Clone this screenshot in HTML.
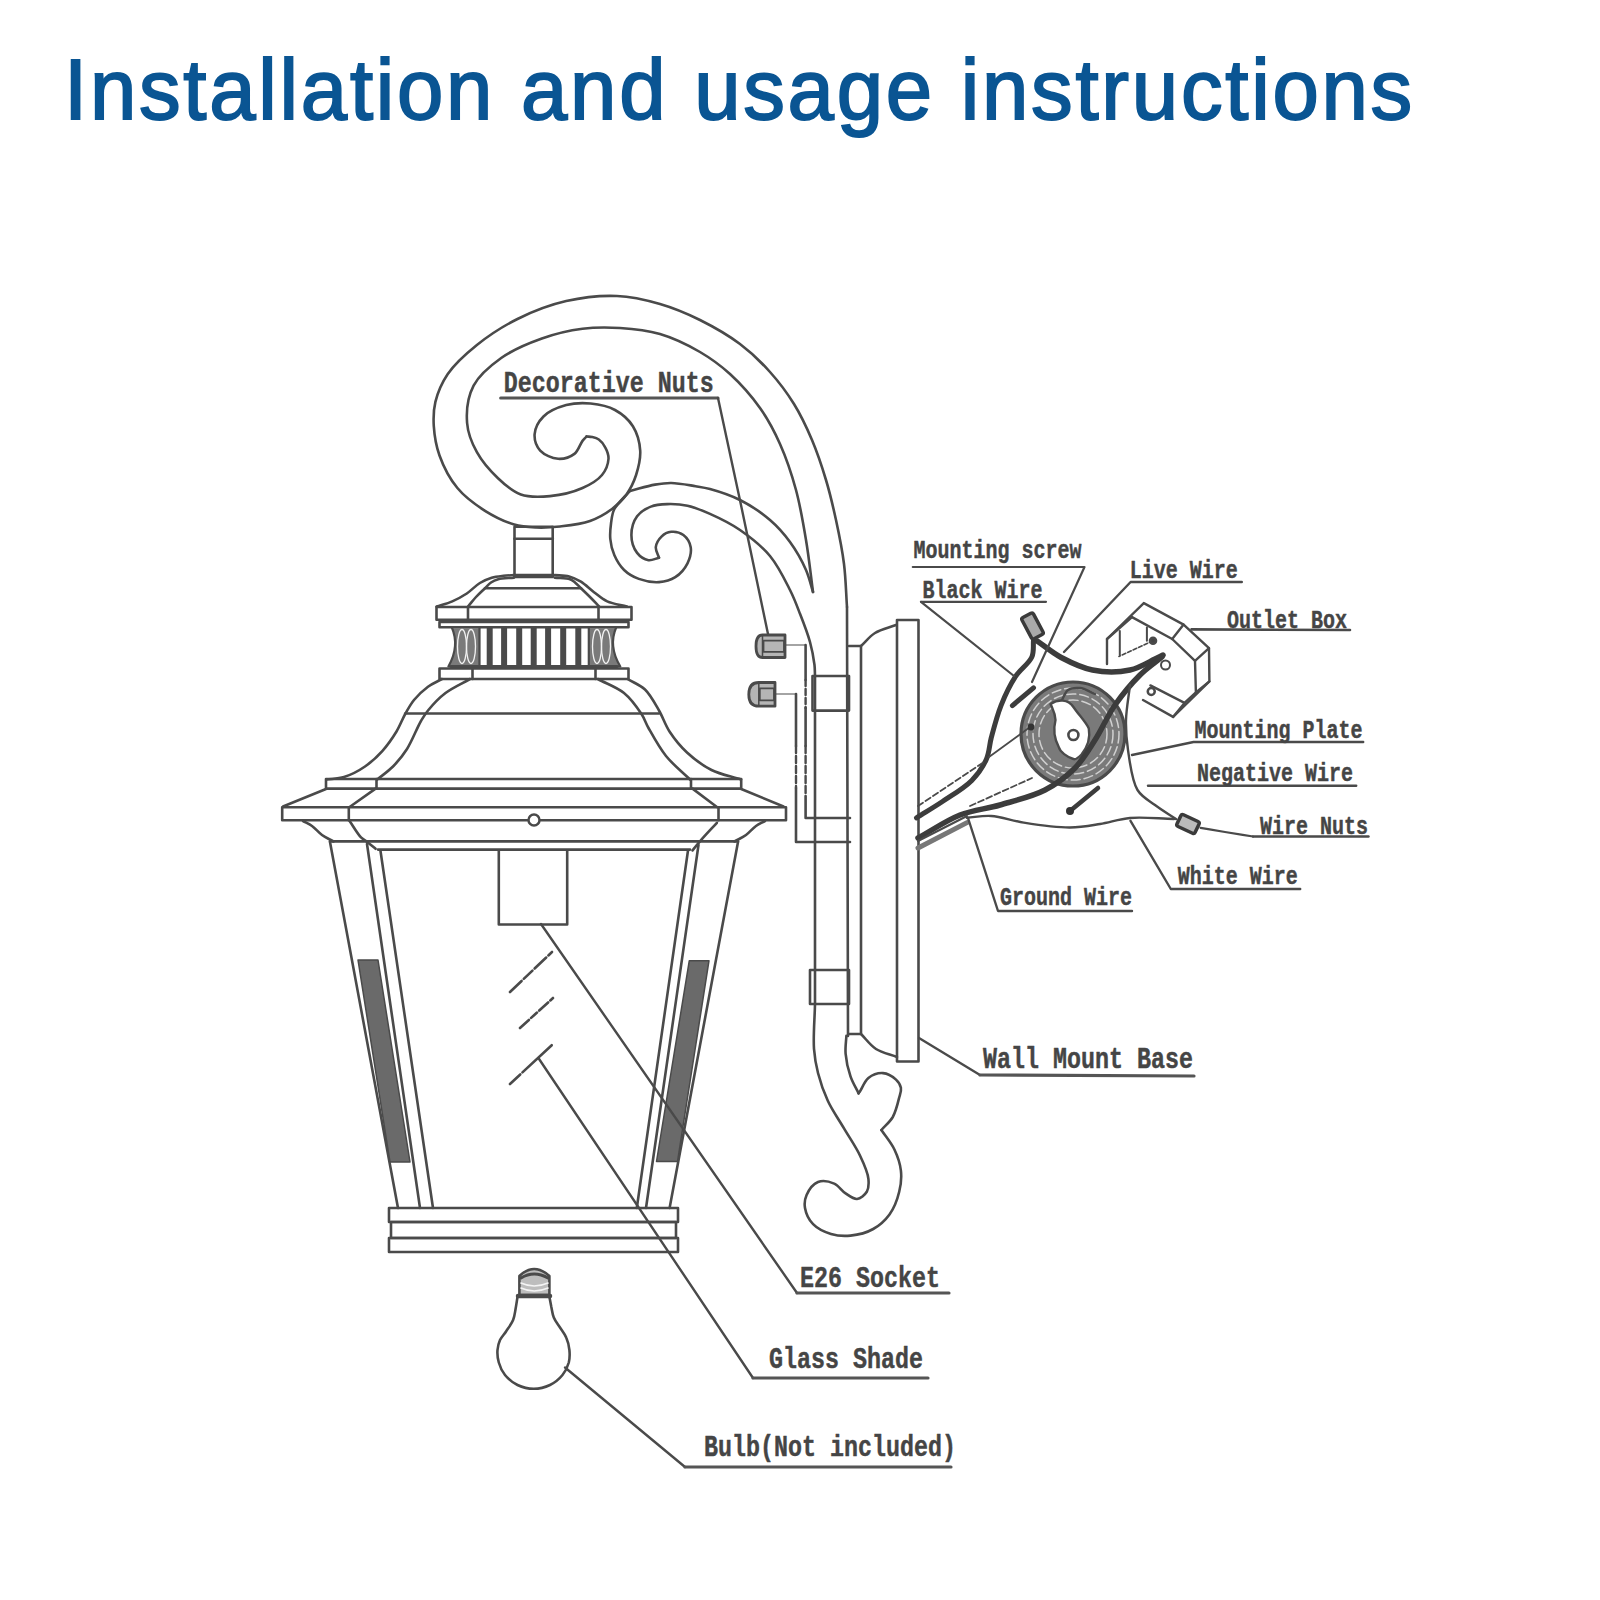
<!DOCTYPE html>
<html><head><meta charset="utf-8">
<style>
html,body{margin:0;padding:0;background:#fff;}
body{width:1600px;height:1600px;overflow:hidden;position:relative;}
h1{position:absolute;left:64.25px;top:47px;margin:0;font-family:"Liberation Sans",sans-serif;font-weight:normal;font-size:85px;color:#0a5593;-webkit-text-stroke:1.9px #0a5593;white-space:nowrap;letter-spacing:2.8px;line-height:1;transform-origin:0 0;transform:scaleX(0.98);}
svg{position:absolute;left:0;top:0;}
.L{font-family:"Liberation Mono",monospace;font-weight:bold;fill:#454545;stroke:#454545;stroke-width:0.35px;}
</style></head><body>
<h1>Installation and usage instructions</h1>
<svg width="1600" height="1600" viewBox="0 0 1600 1600" fill="none" stroke="#4a4a4a" stroke-width="2.6" stroke-linecap="round" stroke-linejoin="round">
<path d="M847.0,607.0 C846.0,592.7 845.8,578.4 844.0,564.0 C842.2,549.4 839.1,534.3 836.0,520.0 C833.0,506.3 830.0,493.2 826.0,480.0 C822.0,466.6 817.4,452.8 812.0,440.0 C806.7,427.5 801.0,415.3 794.0,404.0 C787.0,392.7 778.9,381.9 770.0,372.0 C761.0,361.9 751.2,352.4 740.0,344.0 C728.0,335.0 713.6,326.8 700.0,320.0 C686.9,313.5 673.8,308.0 660.0,304.0 C646.1,300.0 632.0,296.6 617.0,296.0 C600.8,295.3 582.8,297.3 566.2,301.1 C549.6,304.9 532.6,311.5 517.5,319.0 C502.9,326.2 488.9,335.4 476.9,345.0 C465.8,353.9 454.7,363.9 447.6,374.2 C441.6,383.1 437.6,392.8 435.4,401.9 C433.4,410.1 433.3,417.8 433.8,426.2 C434.4,435.6 436.0,445.8 439.5,455.5 C443.4,466.4 449.7,478.7 457.4,488.0 C464.9,497.1 475.3,504.6 485.0,510.8 C494.3,516.6 505.0,521.8 514.2,524.5 C521.9,526.8 528.6,527.1 536.0,527.5 C543.8,527.9 551.6,527.4 560.0,526.5 C569.5,525.4 581.0,524.2 590.0,521.0 C598.2,518.1 605.7,513.7 612.0,509.0 C617.7,504.7 622.5,500.0 626.5,494.4 C630.6,488.7 633.8,482.0 636.1,475.0 C638.5,467.5 640.7,458.7 640.2,450.6 C639.7,442.4 637.2,433.1 632.9,426.2 C628.7,419.6 622.0,413.8 615.0,410.0 C607.9,406.1 598.8,404.3 590.6,403.5 C582.5,402.7 574.0,403.0 566.2,405.1 C558.3,407.3 548.8,411.1 543.5,416.5 C538.8,421.2 535.0,428.5 534.6,434.4 C534.3,439.9 536.6,446.6 540.2,450.6 C544.2,454.9 552.2,458.3 558.1,458.8 C563.6,459.1 570.3,457.0 574.4,453.9 C578.3,450.9 580.1,444.0 582.5,440.9 C584.0,439.0 585.2,438.0 586.5,436.5"/>
<path d="M586.5,436.5 C588.3,436.7 590.1,436.6 592.0,437.0 C594.2,437.5 596.7,438.0 598.8,439.5 C601.2,441.2 603.6,444.3 605.2,447.4 C607.0,450.7 608.7,454.7 608.5,458.8 C608.2,463.7 605.8,470.4 602.0,475.0 C597.6,480.4 590.2,484.6 582.5,488.0 C573.3,492.1 560.6,495.1 550.0,496.1 C540.1,497.0 529.5,497.6 520.8,494.5 C512.2,491.5 505.0,484.9 498.0,478.2 C490.3,471.0 482.1,461.7 476.9,452.2 C471.9,443.2 467.9,433.5 467.1,423.0 C466.2,411.4 468.0,396.4 473.6,385.6 C479.3,374.7 490.4,365.7 501.2,358.0 C512.9,349.7 528.1,343.4 541.9,338.5 C555.2,333.8 569.1,330.5 582.5,328.8 C595.2,327.1 607.3,327.2 620.0,328.0 C633.2,328.8 646.9,330.2 660.0,334.0 C673.6,338.0 688.0,345.0 700.0,352.0 C711.1,358.5 720.4,365.3 730.0,374.0 C740.5,383.6 751.5,396.0 760.0,408.0 C768.1,419.4 774.2,431.0 780.0,444.0 C786.3,458.1 791.7,474.2 796.0,490.0 C800.4,506.2 803.2,523.1 806.0,540.0 C808.9,557.1 810.7,574.7 813.0,592.0"/>
<line x1="847.0" y1="607.0" x2="848.0" y2="1036.0"/>
<path d="M630.0,491.0 C638.3,488.9 647.5,485.9 655.0,484.6 C661.0,483.6 665.3,482.9 671.2,483.0 C678.6,483.1 688.6,485.1 695.6,486.2 C701.0,487.1 704.4,487.5 710.0,489.0 C718.3,491.3 730.3,495.1 740.0,500.0 C750.3,505.2 761.4,512.6 770.0,520.0 C777.8,526.7 784.1,533.9 790.0,542.0 C796.2,550.5 802.1,561.0 806.0,570.0 C809.3,577.6 810.7,584.7 813.0,592.0"/>
<path d="M630.0,491.0 C624.8,497.0 617.5,503.0 614.4,509.0 C612.0,513.6 611.8,518.0 611.1,522.8 C610.4,528.0 609.8,533.6 610.3,539.0 C610.8,544.5 612.1,550.2 614.4,555.3 C616.7,560.5 620.0,566.1 624.1,570.0 C628.1,573.9 633.3,576.9 638.8,578.9 C644.8,581.1 652.7,582.5 659.0,582.1 C664.8,581.7 670.6,580.2 675.3,577.2 C680.2,574.1 684.9,568.6 687.5,563.4 C689.9,558.5 691.5,552.1 690.7,547.2 C689.9,542.7 686.8,537.6 683.4,535.0 C680.2,532.6 675.0,531.4 671.2,531.8 C667.8,532.1 664.0,534.1 661.5,536.6 C658.8,539.2 656.2,543.6 655.8,547.2 C655.5,550.6 657.9,554.2 659.0,557.7"/>
<path d="M659.0,557.7 C655.5,558.5 651.9,560.8 648.5,560.2 C644.6,559.5 639.9,556.5 637.1,552.9 C633.8,548.6 631.4,541.0 631.4,535.0 C631.4,528.8 633.6,521.1 637.1,516.3 C640.3,511.8 645.8,508.6 650.9,506.6 C655.9,504.6 661.5,504.3 667.2,504.1 C673.6,503.9 680.7,504.2 687.5,505.7 C694.9,507.3 702.1,510.4 710.0,513.9 C719.4,518.1 730.4,523.4 740.0,530.0 C750.4,537.2 761.7,546.0 770.0,556.0 C778.3,566.0 784.7,579.5 790.0,590.0 C794.3,598.5 796.8,605.4 800.0,613.8 C803.5,622.7 807.5,633.0 810.0,642.0 C812.2,650.0 813.7,658.7 814.5,665.0 C815.0,669.3 814.8,672.3 815.0,676.0"/>
<line x1="815.0" y1="676.0" x2="815.0" y2="1004.0"/>
<rect x="812.5" y="676.0" width="36.5" height="34.6"/>
<rect x="810.0" y="970.0" width="39.0" height="34.0"/>
<path d="M815.0,1004.0 C814.7,1018.9 813.1,1036.1 814.0,1048.8 C814.7,1058.1 815.9,1064.7 818.0,1073.0 C820.3,1082.0 823.6,1091.7 827.8,1100.8 C832.1,1110.2 838.6,1119.2 844.0,1128.4 C849.4,1137.6 856.1,1147.1 860.2,1156.0 C863.9,1163.8 867.7,1172.1 868.4,1178.8 C868.9,1183.6 868.7,1188.3 866.8,1191.8 C864.8,1195.0 860.5,1198.7 857.0,1199.0 C853.4,1199.3 849.2,1195.8 845.6,1193.4 C841.6,1190.8 838.7,1185.5 834.2,1183.6 C829.6,1181.6 822.6,1180.2 818.0,1182.0 C813.3,1183.9 808.7,1190.3 806.6,1195.0 C804.8,1199.1 804.2,1203.5 805.0,1208.0 C805.9,1213.2 809.0,1220.0 813.1,1224.2 C817.5,1228.8 824.7,1232.1 831.0,1234.0 C837.2,1235.8 843.8,1236.3 850.5,1235.6 C857.9,1234.9 866.7,1232.7 873.2,1229.0 C879.6,1225.5 885.2,1220.4 889.5,1214.5 C894.1,1208.2 897.4,1199.3 899.2,1191.8 C901.0,1184.7 901.7,1177.6 900.9,1170.6 C900.1,1163.5 897.6,1156.2 894.4,1149.5 C891.1,1142.6 885.7,1136.5 881.4,1130.0"/>
<path d="M881.4,1130.0 C885.2,1125.7 889.8,1122.1 892.8,1117.0 C895.9,1111.4 897.9,1102.9 899.2,1097.5 C900.2,1093.7 901.5,1090.8 900.9,1087.8 C900.3,1084.8 898.5,1081.9 896.0,1079.6 C892.9,1076.8 887.5,1073.4 883.0,1073.1 C878.3,1072.8 872.2,1075.0 868.4,1078.0 C864.6,1081.0 862.0,1088.4 860.2,1091.0 C859.5,1092.1 859.1,1092.6 858.6,1093.4"/>
<path d="M858.6,1093.4 C855.9,1087.7 852.6,1082.6 850.5,1076.4 C848.1,1069.5 846.2,1060.8 845.6,1053.6 C845.1,1047.3 846.1,1041.7 846.4,1035.8"/>
<line x1="805.6" y1="645.0" x2="805.6" y2="680.0"/>
<line x1="805.6" y1="680.0" x2="805.6" y2="708.0" stroke-width="2.4" stroke-dasharray="6,3"/>
<line x1="805.6" y1="708.0" x2="805.6" y2="746.0"/>
<line x1="805.6" y1="746.0" x2="805.6" y2="796.0" stroke-width="2.4" stroke-dasharray="7,3"/>
<polyline points="805.6,796.0 805.6,818.0 850.0,818.0"/>
<line x1="796.0" y1="694.0" x2="796.0" y2="746.0"/>
<line x1="796.0" y1="746.0" x2="796.0" y2="788.0" stroke-width="2.4" stroke-dasharray="7,3"/>
<polyline points="796.0,788.0 796.0,842.0 850.0,842.0"/>
<line x1="786.0" y1="645.0" x2="805.0" y2="645.0" stroke-width="1.2"/>
<line x1="776.0" y1="694.0" x2="796.0" y2="694.0" stroke-width="1.2"/>
<path d="M762.5,635.0 L785.0,635.0 L785.0,657.5 L762.5,657.5 Q756.0,657.5 756.0,646.2 Q756.0,635.0 762.5,635.0 Z" fill="#b5b5b5" stroke-width="2.8"/>
<line x1="762.5" y1="635.0" x2="762.5" y2="657.5" stroke-width="1.5"/>
<rect x="763.5" y="640.6" width="20.5" height="11.2" stroke-width="1.8"/>
<path d="M758.8,682.5 L775.0,682.5 L775.0,706.2 L758.8,706.2 Q748.8,706.2 748.8,694.4 Q748.8,682.5 758.8,682.5 Z" fill="#b5b5b5" stroke-width="2.8"/>
<line x1="758.8" y1="682.5" x2="758.8" y2="706.2" stroke-width="1.5"/>
<rect x="759.8" y="688.4" width="14.2" height="11.9" stroke-width="1.8"/>
<polyline points="849.0,646.0 861.0,646.0 861.0,1034.0 849.0,1034.0"/>
<path d="M861.0,646.0 C865.7,641.7 869.5,636.4 875.0,633.0 C881.0,629.3 889.0,627.7 896.0,625.0"/>
<path d="M861.0,1034.0 C866.0,1039.0 870.1,1045.2 876.0,1049.0 C882.1,1052.9 890.0,1054.3 897.0,1057.0"/>
<rect x="897.0" y="620.0" width="21.5" height="441.5"/>
<rect x="514.5" y="526.8" width="38.2" height="50.2"/>
<line x1="514.5" y1="538.8" x2="552.8" y2="538.8"/>
<line x1="514.5" y1="575.5" x2="552.8" y2="575.5" stroke-width="3.5"/>
<path d="M436.6,606.6 C441.8,604.9 447.3,603.6 452.3,601.4 C457.3,599.2 462.2,596.5 466.8,593.5 C471.4,590.4 475.5,585.7 479.9,583.0 C483.8,580.6 487.7,578.9 491.7,577.7 C495.6,576.5 499.7,576.2 503.5,575.8 C507.1,575.4 510.5,575.3 514.0,575.1"/>
<path d="M554.7,575.1 C559.5,575.5 564.6,575.2 569.1,576.4 C573.3,577.5 577.0,579.3 580.9,581.7 C585.3,584.4 589.6,588.9 594.0,592.2 C598.3,595.4 602.1,599.1 607.2,601.4 C612.9,604.0 620.3,604.9 626.9,606.6"/>
<path d="M468.0,606.6 C470.7,603.4 473.2,600.1 476.0,597.0 C478.8,593.9 482.3,590.8 485.0,588.2 C487.2,586.1 488.8,584.0 491.0,582.5 C493.2,581.0 495.3,580.0 498.2,579.2 C502.4,578.1 508.8,578.2 514.0,577.7"/>
<path d="M599.3,606.6 C596.2,603.4 593.1,600.1 590.0,597.0 C587.0,594.0 583.7,590.8 581.0,588.2 C578.8,586.1 577.0,584.1 575.0,582.5 C573.3,581.2 572.2,580.0 570.0,579.2 C566.4,577.9 559.8,578.2 554.7,577.7"/>
<line x1="485.0" y1="588.2" x2="581.0" y2="588.2"/>
<rect x="436.5" y="607.0" width="195.0" height="12.8"/>
<line x1="468.0" y1="607.0" x2="468.0" y2="619.8"/>
<line x1="598.5" y1="607.0" x2="598.5" y2="619.8"/>
<rect x="439.5" y="622.0" width="189.0" height="5.2"/>
<path d="M451.65,627 Q460,646 448.4,666.5 L479.5,666.5 L479.5,627 Z" fill="#7a7a7a" stroke-width="2.2"/>
<path d="M616.35,627 Q608,646 620.3,666.5 L588.8,666.5 L588.8,627 Z" fill="#7a7a7a" stroke-width="2.2"/>
<ellipse cx="462.0" cy="646.5" rx="4.5" ry="17" stroke="#f2f2f2" stroke-width="1.3"/>
<ellipse cx="471.0" cy="646.5" rx="4.5" ry="17" stroke="#f2f2f2" stroke-width="1.3"/>
<ellipse cx="597.0" cy="646.5" rx="4.5" ry="17" stroke="#f2f2f2" stroke-width="1.3"/>
<ellipse cx="606.0" cy="646.5" rx="4.5" ry="17" stroke="#f2f2f2" stroke-width="1.3"/>
<line x1="489.7" y1="628.0" x2="489.7" y2="666.0" stroke-width="6" stroke-linecap="butt"/>
<line x1="504.1" y1="628.0" x2="504.1" y2="666.0" stroke-width="6" stroke-linecap="butt"/>
<line x1="519.2" y1="628.0" x2="519.2" y2="666.0" stroke-width="6" stroke-linecap="butt"/>
<line x1="533.7" y1="628.0" x2="533.7" y2="666.0" stroke-width="6" stroke-linecap="butt"/>
<line x1="548.1" y1="628.0" x2="548.1" y2="666.0" stroke-width="6" stroke-linecap="butt"/>
<line x1="563.2" y1="628.0" x2="563.2" y2="666.0" stroke-width="6" stroke-linecap="butt"/>
<line x1="578.3" y1="628.0" x2="578.3" y2="666.0" stroke-width="6" stroke-linecap="butt"/>
<line x1="451.0" y1="666.5" x2="617.0" y2="666.5" stroke-width="3.2"/>
<rect x="439.5" y="668.5" width="189.0" height="10.5"/>
<line x1="472.5" y1="668.5" x2="472.5" y2="679.0"/>
<line x1="595.5" y1="668.5" x2="595.5" y2="679.0"/>
<path d="M442.0,679.0 C437.3,681.6 432.5,683.4 428.0,686.7 C423.1,690.3 417.9,695.2 414.0,700.0 C410.4,704.4 408.1,709.0 405.2,714.0 C402.2,719.4 400.0,725.7 396.5,731.5 C392.6,737.9 387.8,744.9 382.5,750.8 C377.3,756.6 371.4,762.1 365.0,766.5 C358.6,770.9 350.9,774.9 344.0,777.0 C338.1,778.9 332.3,778.7 326.5,779.5"/>
<path d="M470.0,679.0 C461.8,683.7 452.7,687.5 445.5,693.0 C438.8,698.1 432.3,705.2 428.0,710.5 C424.9,714.3 423.6,716.6 421.0,721.0 C416.9,728.0 412.1,741.0 407.0,749.0 C402.7,755.8 398.1,761.3 393.0,766.5 C388.1,771.4 382.5,775.2 377.2,779.5"/>
<path d="M627.5,679.0 C633.3,682.5 639.9,684.7 645.0,689.5 C650.6,694.9 654.9,703.4 659.0,710.5 C663.0,717.4 665.1,724.7 669.5,731.5 C674.3,738.8 680.2,746.2 687.0,752.5 C694.1,759.1 702.6,765.5 711.5,770.0 C720.6,774.6 731.2,776.3 741.0,779.5"/>
<path d="M597.8,679.0 C606.5,683.7 616.6,687.0 624.0,693.0 C631.1,698.8 637.2,707.5 641.5,714.0 C644.7,718.9 645.5,722.6 648.5,728.0 C652.9,735.8 659.1,747.4 666.0,756.0 C672.9,764.6 682.0,771.7 690.0,779.5"/>
<line x1="405.2" y1="713.5" x2="659.0" y2="713.5"/>
<rect x="326.0" y="779.0" width="415.2" height="9.6"/>
<line x1="376.5" y1="779.0" x2="376.5" y2="788.6"/>
<line x1="691.0" y1="779.0" x2="691.0" y2="788.6"/>
<line x1="326.0" y1="789.0" x2="283.0" y2="806.5"/>
<line x1="375.6" y1="788.6" x2="349.6" y2="807.0"/>
<line x1="741.2" y1="789.0" x2="783.5" y2="806.5"/>
<line x1="692.5" y1="788.6" x2="716.9" y2="807.0"/>
<rect x="282.2" y="807.3" width="503.8" height="13.0" stroke-width="2.6"/>
<line x1="348.8" y1="807.3" x2="348.8" y2="820.3"/>
<line x1="718.5" y1="807.3" x2="718.5" y2="820.3"/>
<path d="M303.0,821.0 C306.0,822.7 309.0,823.9 312.0,826.0 C315.4,828.4 318.4,832.4 322.0,835.0 C325.6,837.6 329.7,839.3 333.5,841.5"/>
<path d="M765.0,821.0 C762.0,822.7 759.0,823.9 756.0,826.0 C752.6,828.4 749.6,832.4 746.0,835.0 C742.4,837.6 738.3,839.3 734.5,841.5"/>
<line x1="330.0" y1="841.4" x2="738.0" y2="841.4"/>
<path d="M349.6,821.0 C353.4,826.5 357.4,833.7 361.0,837.4 C363.3,839.7 365.2,840.4 367.5,842.2 C370.1,844.2 372.9,846.6 375.6,848.8"/>
<path d="M716.9,822.8 C711.5,828.7 705.0,835.5 700.6,840.6 C697.4,844.3 695.2,847.1 692.5,850.4"/>
<line x1="378.0" y1="849.6" x2="690.0" y2="849.6"/>
<circle cx="534" cy="820" r="5.5" fill="#fff" stroke-width="2.5"/>
<line x1="330.0" y1="842.0" x2="398.0" y2="1208.0"/>
<line x1="367.0" y1="844.0" x2="420.0" y2="1208.0"/>
<line x1="380.5" y1="851.0" x2="433.0" y2="1208.0"/>
<line x1="738.0" y1="842.0" x2="669.6" y2="1208.0"/>
<line x1="698.5" y1="845.0" x2="646.0" y2="1208.0"/>
<line x1="688.0" y1="850.5" x2="636.8" y2="1208.0"/>
<polygon points="358,960 378,960 410,1162 390,1162" fill="#6a6a6a" stroke-width="1.5"/>
<polygon points="689.3,960.7 709,960.7 677.5,1161.5 656.5,1161.5" fill="#6a6a6a" stroke-width="1.5"/>
<polyline points="498.8,851.0 498.8,924.5 567.2,924.5 567.2,851.0"/>
<line x1="510.0" y1="992.0" x2="552.0" y2="952.0" stroke-width="2.6" stroke-dasharray="16,3,12,3"/>
<line x1="520.0" y1="1028.0" x2="553.0" y2="998.0" stroke-width="2.6" stroke-dasharray="12,3,8,3"/>
<line x1="510.0" y1="1084.0" x2="553.0" y2="1044.0" stroke-width="2.6" stroke-dasharray="14,3,40"/>
<rect x="389.0" y="1208.0" width="289.0" height="14.0"/>
<rect x="391.0" y="1222.0" width="285.0" height="16.0"/>
<rect x="389.0" y="1238.0" width="289.0" height="14.0"/>
<polyline points="500.6,398.0 718.0,398.0" stroke-width="3.0" stroke="#555"/>
<polyline points="718.0,398.0 741.0,505.0 768.0,634.0" stroke-width="2.4"/>
<line x1="541.0" y1="924.0" x2="797.0" y2="1293.0" stroke-width="2.4"/>
<line x1="797.0" y1="1293.0" x2="949.0" y2="1293.0" stroke-width="3.2" stroke="#555"/>
<line x1="538.4" y1="1058.0" x2="753.0" y2="1378.0" stroke-width="2.4"/>
<line x1="753.0" y1="1378.0" x2="928.0" y2="1378.0" stroke-width="3.2" stroke="#555"/>
<line x1="565.0" y1="1367.5" x2="685.0" y2="1467.0" stroke-width="2.4"/>
<line x1="685.0" y1="1467.0" x2="951.0" y2="1467.0" stroke-width="3.2" stroke="#555"/>
<line x1="919.0" y1="1038.0" x2="980.0" y2="1075.0" stroke-width="2.4"/>
<line x1="980.0" y1="1075.0" x2="1194.0" y2="1076.0" stroke-width="3.2" stroke="#555"/>
<path d="M517.5,1296.9 C516.9,1300.9 516.3,1304.9 515.6,1308.8 C514.9,1312.6 514.6,1316.4 513.1,1320.0 C511.5,1323.9 508.5,1327.8 506.2,1331.2 C504.2,1334.4 501.5,1336.8 500.0,1340.0 C498.6,1343.1 497.8,1346.5 497.5,1350.0 C497.2,1353.9 497.6,1358.4 498.8,1362.5 C500.0,1366.8 502.0,1371.3 505.0,1375.0 C508.2,1378.9 512.8,1382.7 517.5,1385.0 C522.3,1387.3 528.3,1388.8 533.8,1388.8 C539.2,1388.8 545.2,1387.3 550.0,1385.0 C554.7,1382.7 559.3,1378.9 562.5,1375.0 C565.5,1371.3 567.6,1366.8 568.8,1362.5 C569.8,1358.4 569.8,1354.1 569.4,1350.0 C569.0,1345.8 567.9,1341.3 566.2,1337.5 C564.7,1333.8 562.1,1330.8 560.0,1327.5 C557.9,1324.2 555.2,1321.1 553.8,1317.5 C552.3,1314.0 552.0,1309.8 551.2,1306.2 C550.6,1303.0 550.0,1300.0 549.4,1296.9"/>
<path d="M519.4,1295 L519.4,1276 Q534,1262 549.4,1276 L549.4,1295 Z" fill="#bdbdbd" stroke-width="2.6"/>
<path d="M521,1278 Q534,1270 548,1278" stroke-width="3"/>
<path d="M521,1283 Q534,1289 548,1283" stroke="#f4f4f4" stroke-width="1.6"/>
<path d="M521,1288 Q534,1294 548,1288" stroke="#f4f4f4" stroke-width="1.6"/>
<line x1="518.0" y1="1296.0" x2="550.0" y2="1296.0" stroke-width="4.5"/>
<polyline points="1107.0,664.0 1107.0,639.0 1143.8,603.1 1183.6,624.6 1209.0,648.2 1209.4,681.4 1173.1,716.9 1143.0,700.0" stroke-width="2.4"/>
<polyline points="1132.0,617.1 1172.2,639.0 1195.0,660.9 1195.9,692.4 1184.5,702.9 1150.4,685.4" stroke-width="2.4"/>
<line x1="1107.0" y1="639.0" x2="1132.0" y2="617.1" stroke-width="2.4"/>
<line x1="1183.6" y1="624.6" x2="1172.2" y2="639.0" stroke-width="2.4"/>
<line x1="1209.0" y1="648.2" x2="1195.0" y2="660.9" stroke-width="2.4"/>
<line x1="1209.4" y1="681.4" x2="1195.9" y2="692.4" stroke-width="2.4"/>
<line x1="1184.5" y1="702.9" x2="1173.1" y2="716.9" stroke-width="2.4"/>
<line x1="1119.8" y1="631.0" x2="1119.8" y2="655.0" stroke-width="2.0"/>
<line x1="1146.9" y1="627.6" x2="1146.9" y2="640.7" stroke-width="2.0"/>
<line x1="1153.0" y1="640.7" x2="1118.9" y2="656.5" stroke-width="1.6" stroke-dasharray="4,2"/>
<circle cx="1153" cy="640.7" r="3" fill="#444"/>
<circle cx="1151.25" cy="691.5" r="3.5" fill="none" stroke-width="2.5"/>
<line x1="1191.5" y1="629.4" x2="1350.0" y2="630.0" stroke-width="2.6"/>
<circle cx="1073" cy="734" r="52" fill="#7a7a7a" stroke-width="3.2"/>
<circle cx="1073" cy="734" r="46" stroke="#d0d0d0" stroke-width="1.5" stroke-dasharray="9,4"/>
<circle cx="1073" cy="734" r="40" stroke="#d0d0d0" stroke-width="1.5" stroke-dasharray="9,4"/>
<circle cx="1073" cy="734" r="34" stroke="#d0d0d0" stroke-width="1.5" stroke-dasharray="9,4"/>
<path d="M1050.6,704 C1058,699 1068,699 1073.4,707 C1078,714 1086,722 1088.8,728.5 C1090,735 1089,745 1081.5,754.5 C1078,758 1075,760 1073.4,759 C1067,757 1060,752 1058.75,747 C1055,740 1053,730 1055.5,720 C1055,712 1052,708 1050.6,704 Z" fill="#fff" stroke-width="2.4"/>
<path d="M1062.0,700.0 C1064.0,696.7 1065.1,692.0 1068.0,690.0 C1071.0,687.9 1075.8,687.6 1080.0,688.0 C1084.8,688.5 1090.0,692.0 1095.0,694.0" stroke-width="2.4"/>
<circle cx="1073.4" cy="735" r="5" fill="#fff" stroke-width="2.6"/>
<path d="M1033.5,640.0 C1033.0,645.6 1034.2,651.4 1031.9,656.9 C1029.1,663.6 1020.5,668.9 1015.6,676.4 C1010.0,684.9 1005.0,695.4 1001.0,705.6 C996.9,716.0 993.8,728.3 991.2,738.0 C989.2,745.8 989.4,752.5 986.4,759.2 C983.1,766.6 978.2,773.9 971.8,780.4 C964.2,788.1 952.1,795.1 942.5,801.5 C933.7,807.4 925.2,812.3 916.5,817.8" stroke-width="5" stroke="#3c3c3c"/>
<line x1="1012.4" y1="705.6" x2="1033.5" y2="687.8" stroke-width="5" stroke="#3c3c3c"/>
<rect x="1026" y="614" width="13" height="24" rx="2" transform="rotate(-28 1032.5 626)" fill="#aaa" stroke="#3a3a3a" stroke-width="3.5"/>
<path d="M1037.5,641.2 C1045.4,646.7 1052.5,652.8 1061.2,657.5 C1070.7,662.5 1081.4,667.9 1092.5,670.0 C1104.2,672.3 1119.0,672.3 1130.0,670.0 C1139.4,668.0 1149.0,661.8 1155.0,659.0 C1158.4,657.4 1160.3,656.3 1163.0,655.0" stroke-width="5.5" stroke="#3c3c3c"/>
<circle cx="1165.5" cy="665" r="4.5" stroke-width="2"/>
<path d="M1162.0,657.0 C1154.7,663.0 1147.2,667.8 1140.0,675.0 C1131.5,683.4 1122.5,694.3 1115.0,705.0 C1107.4,715.9 1102.0,729.1 1095.0,740.0 C1088.6,750.0 1083.1,759.8 1075.0,768.0 C1066.6,776.5 1056.5,784.0 1045.0,790.0 C1032.0,796.7 1014.6,800.7 1000.0,805.0 C986.4,809.0 973.2,809.8 960.0,815.0 C945.8,820.6 932.0,830.3 918.0,838.0" stroke-width="5.5" stroke="#3c3c3c"/>
<path d="M1130.0,685.0 C1128.7,696.7 1126.3,708.8 1126.0,720.0 C1125.8,730.4 1126.4,739.4 1128.0,750.0 C1129.9,762.4 1131.7,780.5 1137.5,790.0 C1141.9,797.1 1148.7,800.3 1155.0,805.0 C1161.5,810.0 1169.0,814.3 1176.0,819.0" stroke-width="2.4"/>
<path d="M966.9,817.8 C975.0,817.2 982.6,815.4 991.2,816.0 C1001.3,816.6 1011.9,820.8 1023.8,822.6 C1037.8,824.8 1056.2,827.6 1070.0,827.5 C1081.1,827.4 1090.0,825.6 1100.0,824.0 C1110.0,822.4 1119.0,819.0 1130.0,818.0 C1143.2,816.8 1159.3,818.7 1174.0,819.0" stroke-width="2.4"/>
<path d="M1200.5,827.8 C1208.7,829.2 1216.6,830.6 1225.0,832.0 C1234.0,833.5 1243.7,835.0 1253.0,836.5" stroke-width="2.2"/>
<rect x="1178" y="817.5" width="20" height="13" rx="2" transform="rotate(25 1188 824)" fill="#bbb" stroke="#3a3a3a" stroke-width="3.5"/>
<line x1="918.0" y1="848.0" x2="967.0" y2="822.6" stroke-width="5" stroke="#777"/>
<line x1="918.0" y1="841.0" x2="967.0" y2="816.0" stroke-width="2"/>
<line x1="918.0" y1="806.0" x2="984.0" y2="762.0" stroke-width="1.8" stroke-dasharray="6,3"/>
<line x1="970.0" y1="806.0" x2="1032.0" y2="778.0" stroke-width="1.8" stroke-dasharray="6,3"/>
<line x1="989.0" y1="757.0" x2="1028.0" y2="728.5" stroke-width="1.8"/>
<circle cx="1031" cy="727" r="3.5" fill="#333" stroke="none"/>
<line x1="1070.0" y1="811.0" x2="1098.0" y2="788.0" stroke-width="4.5" stroke="#3c3c3c"/>
<circle cx="1070" cy="811" r="4" fill="#333" stroke="none"/>
<polyline points="912.8,567.0 1084.5,567.0 1032.0,682.0" stroke-width="2.2"/>
<polyline points="921.0,601.8 1046.0,601.8" stroke-width="2.2"/>
<line x1="921.0" y1="601.8" x2="1014.0" y2="676.0" stroke-width="2.2"/>
<polyline points="1064.0,652.0 1130.6,582.0 1241.8,582.0" stroke-width="2.4"/>
<polyline points="1132.0,755.0 1193.5,742.0 1363.2,742.0" stroke-width="2.4"/>
<line x1="1148.0" y1="785.8" x2="1356.2" y2="785.8" stroke-width="2.4"/>
<line x1="1253.0" y1="836.5" x2="1368.5" y2="836.5" stroke-width="2.4"/>
<polyline points="1130.5,820.8 1170.8,889.0 1300.2,889.0" stroke-width="2.4"/>
<polyline points="968.0,818.0 998.0,911.0 1132.0,911.0" stroke-width="2.4"/>
<text class="L" transform="translate(503.8,391.9) scale(1,1.30)" x="0" y="0" font-size="23.33">Decorative Nuts</text>
<text class="L" transform="translate(983.0,1068.0) scale(1,1.30)" x="0" y="0" font-size="23.33">Wall Mount Base</text>
<text class="L" transform="translate(800.0,1287.0) scale(1,1.30)" x="0" y="0" font-size="23.33">E26 Socket</text>
<text class="L" transform="translate(769.0,1368.0) scale(1,1.30)" x="0" y="0" font-size="23.33">Glass Shade</text>
<text class="L" transform="translate(704.0,1456.0) scale(1,1.30)" x="0" y="0" font-size="23.33">Bulb(Not included)</text>
<text class="L" transform="translate(913.5,558.2) scale(1,1.29)" x="0" y="0" font-size="20.00">Mounting screw</text>
<text class="L" transform="translate(922.5,598.0) scale(1,1.29)" x="0" y="0" font-size="20.00">Black Wire</text>
<text class="L" transform="translate(1129.8,577.6) scale(1,1.29)" x="0" y="0" font-size="20.00">Live Wire</text>
<text class="L" transform="translate(1226.9,627.5) scale(1,1.29)" x="0" y="0" font-size="20.00">Outlet Box</text>
<text class="L" transform="translate(1194.4,737.6) scale(1,1.29)" x="0" y="0" font-size="20.00">Mounting Plate</text>
<text class="L" transform="translate(1197.0,780.5) scale(1,1.29)" x="0" y="0" font-size="20.00">Negative Wire</text>
<text class="L" transform="translate(1260.0,833.9) scale(1,1.29)" x="0" y="0" font-size="20.00">Wire Nuts</text>
<text class="L" transform="translate(1177.8,883.8) scale(1,1.29)" x="0" y="0" font-size="20.00">White Wire</text>
<text class="L" transform="translate(1000.0,905.0) scale(1,1.29)" x="0" y="0" font-size="20.00">Ground Wire</text>
</svg>
</body></html>
